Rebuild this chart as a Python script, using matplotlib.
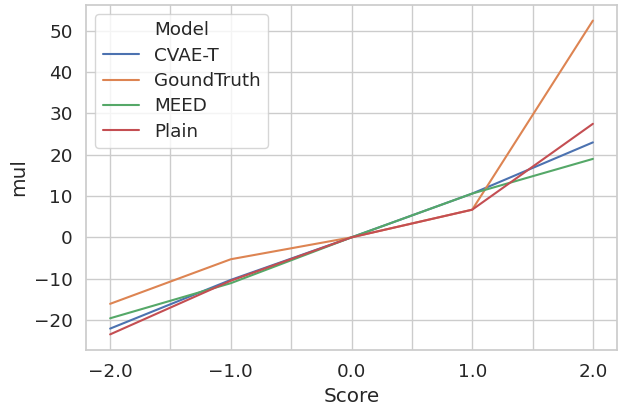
import matplotlib
matplotlib.use("Agg")
import matplotlib.pyplot as plt
from matplotlib.lines import Line2D
import numpy as np
import seaborn as sns

scores = [-2.0, -1.0, 0.0, 1.0, 2.0]
cvae_t = [-22.1, -10.3, 0.0, 10.6, 23.0]
ground_truth = [-16.1, -5.3, 0.0, 6.7, 52.5]
meed = [-19.6, -11.1, 0.0, 10.6, 19.0]
plain = [-23.5, -10.5, 0.0, 6.7, 27.5]

models = ["CVAE-T", "GoundTruth", "MEED", "Plain"]
series = [cvae_t, ground_truth, meed, plain]


def tick_label(v):
    # only label whole scores, grid lines stay at every 0.5
    if v != int(v):
        return ""
    s = "%.1f" % abs(v)
    return "\u2212" + s if v < 0 else s


sns.set_theme(style="whitegrid", font_scale=1.2)
colors = sns.color_palette()

fig, ax = plt.subplots(figsize=(6.21, 4.08), dpi=100)
handles = [Line2D([], [], linestyle="none", marker="")]
labels = ["Model"]
for name, vals, c in zip(models, series, colors):
    ln, = ax.plot(scores, vals, color=c, linewidth=1.5)
    handles.append(ln)
    labels.append(name)

xt = np.arange(-2.0, 2.01, 0.5)
ax.set_xticks(xt)
ax.set_xticklabels([tick_label(v) for v in xt])
ax.set_xlabel("Score")
ax.set_ylabel("mul")
ax.legend(handles, labels, loc="upper left", labelspacing=0.4)

fig.subplots_adjust(left=0.1385, right=0.9936, top=0.988, bottom=0.142)
plt.savefig("out.png", dpi=100)
